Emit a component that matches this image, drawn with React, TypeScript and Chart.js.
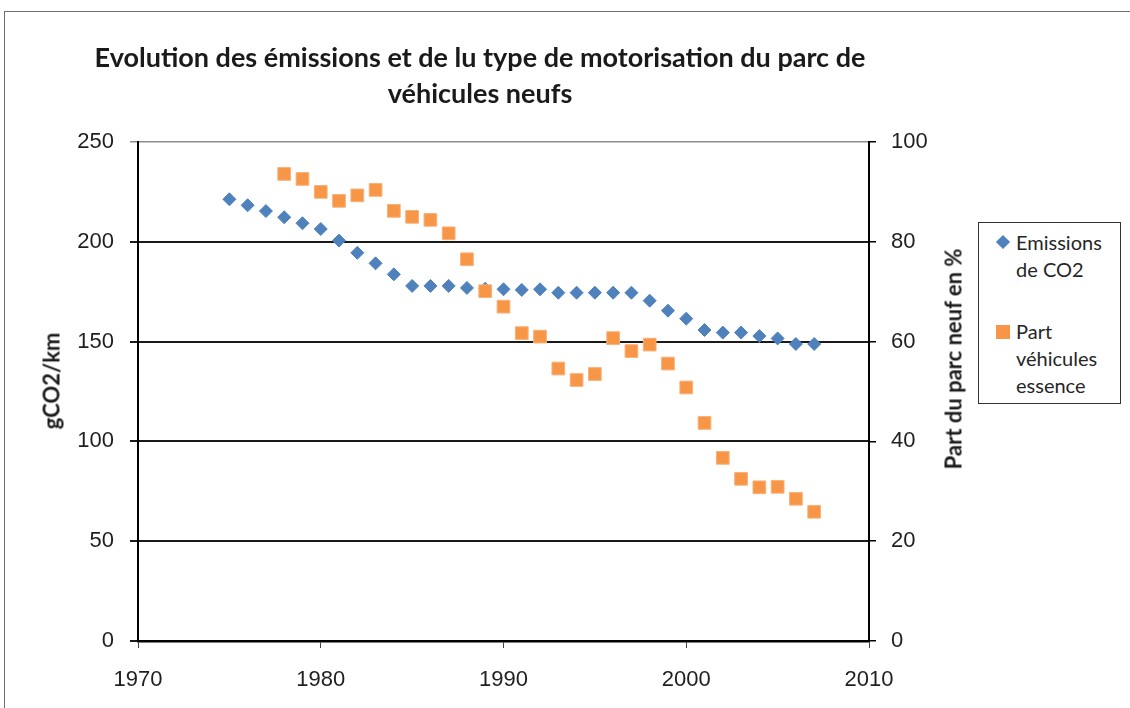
import React, { useEffect, useRef } from "react";
import { Chart, registerables } from "chart.js";

Chart.register(...registerables);

const emissionYears = [
  1975, 1976, 1977, 1978, 1979, 1980, 1981, 1982, 1983, 1984, 1985, 1986, 1987, 1988, 1989, 1990, 1991,
  1992, 1993, 1994, 1995, 1996, 1997, 1998, 1999, 2000, 2001, 2002, 2003, 2004, 2005, 2006, 2007,
];
const emissionsCO2 = [
  221.3, 218.3, 215.4, 212.3, 209.3, 206.4, 200.6, 194.5, 189.2, 183.7, 177.9, 177.9, 177.9, 176.9, 176.5,
  176.2, 175.9, 176.2, 174.5, 174.5, 174.5, 174.5, 174.5, 170.5, 165.5, 161.5, 155.8, 154.5, 154.5, 152.8,
  151.6, 148.8, 148.8,
];
const essenceYears = [
  1978, 1979, 1980, 1981, 1982, 1983, 1984, 1985, 1986, 1987, 1988, 1989, 1990, 1991, 1992, 1993, 1994,
  1995, 1996, 1997, 1998, 1999, 2000, 2001, 2002, 2003, 2004, 2005, 2006, 2007,
];
const partEssence = [
  93.6, 92.6, 90.0, 88.2, 89.3, 90.4, 86.2, 85.0, 84.4, 81.7, 76.5, 70.1, 67.0, 61.7, 61.0, 54.6, 52.3,
  53.5, 60.7, 58.1, 59.4, 55.6, 50.8, 43.7, 36.7, 32.5, 30.8, 30.9, 28.5, 25.9,
];

const titleLines = ["Evolution des émissions et de lu type de motorisation du parc de", "véhicules neufs"];
const leftAxisTitle = "gCO2/km";
const rightAxisTitle = "Part du parc neuf en %";
const legendLabels = [["Emissions", "de CO2"], ["Part", "véhicules", "essence"]];

const BLUE = "#4F81BD";
const ORANGE = "#F79646";
const TICK_FONT = { family: "'Liberation Sans', Arial, sans-serif", size: 22 };
const TEXT_FONT = "Lato, 'Open Sans', sans-serif";

export default function App() {
  const canvasRef = useRef<HTMLCanvasElement | null>(null);

  useEffect(() => {
    document.body.style.margin = "0";
    document.body.style.overflow = "hidden";
    const ctx = canvasRef.current!.getContext("2d")!;
    const chart = new Chart(ctx, {
      type: "scatter",
      data: {
        datasets: [
          {
            label: legendLabels[1].join(" "),
            data: essenceYears.map((x, i) => ({ x, y: partEssence[i] })),
            yAxisID: "y1",
            pointStyle: "rect",
            pointRadius: 9,
            pointHoverRadius: 9,
            backgroundColor: ORANGE,
            borderColor: "#F9B27A",
            borderWidth: 1,
            order: 0,
          },
          {
            label: legendLabels[0].join(" "),
            data: emissionYears.map((x, i) => ({ x, y: emissionsCO2[i] })),
            yAxisID: "y",
            pointStyle: "rectRot",
            pointRadius: 6.5,
            pointHoverRadius: 6.5,
            backgroundColor: BLUE,
            borderColor: BLUE,
            borderWidth: 1,
            order: 1,
          },
        ],
      },
      options: {
        animation: false,
        responsive: false,
        maintainAspectRatio: false,
        layout: { padding: { top: 142, right: 181, bottom: 0, left: 0 } },
        plugins: { legend: { display: false }, tooltip: { enabled: false }, title: { display: false } },
        scales: {
          x: {
            type: "linear",
            min: 1970,
            max: 2010,
            ticks: {
              stepSize: 10,
              font: TICK_FONT,
              color: "#1f1f1f",
              padding: 19,
              callback: (v: any) => String(v),
            },
            grid: { drawOnChartArea: false, drawTicks: true, tickLength: 7, color: "#444", lineWidth: 1 },
            border: { display: true, color: "#000", width: 2.5 },
            afterFit: (s: any) => {
              s.height = 67;
            },
          },
          y: {
            type: "linear",
            position: "left",
            min: 0,
            max: 250,
            ticks: { stepSize: 50, font: TICK_FONT, color: "#1f1f1f", padding: 16 },
            grid: {
              color: (c: any) => (c.tick && c.tick.value === 250 ? "#8c8c8c" : "#1a1a1a"),
              lineWidth: (c: any) => (c.tick && c.tick.value === 250 ? 1.5 : 2),
              tickLength: 8,
              drawTicks: true,
            },
            border: { display: true, color: "#000", width: 2 },
            afterFit: (s: any) => {
              s.width = 138;
            },
          },
          y1: {
            type: "linear",
            position: "right",
            min: 0,
            max: 100,
            ticks: { stepSize: 20, font: TICK_FONT, color: "#1f1f1f", padding: 15 },
            grid: { drawOnChartArea: false, drawTicks: true, tickLength: 7, color: "#000", lineWidth: 1.5 },
            border: { display: true, color: "#000", width: 2 },
            afterFit: (s: any) => {
              s.width = 80;
            },
          },
        },
      },
    });
    return () => chart.destroy();
  }, []);

  const wrap: React.CSSProperties = {
    position: "fixed",
    left: 0,
    top: 0,
    width: 1130,
    height: 708,
    overflow: "hidden",
    background: "#fff",
  };

  return (
    <div style={wrap}>
      <div
        style={{
          position: "absolute",
          left: 4,
          top: 11,
          width: 1200,
          height: 800,
          border: "1px solid #6e6e6e",
          boxSizing: "border-box",
        }}
      />
      <canvas ref={canvasRef} width={1130} height={708} style={{ position: "absolute", left: 0, top: 0 }} />
      <div
        style={{
          position: "absolute",
          left: 30,
          top: 39,
          width: 900,
          textAlign: "center",
          fontFamily: TEXT_FONT,
          fontWeight: 700,
          fontSize: 27,
          lineHeight: "36px",
          color: "#1a1a1a",
          whiteSpace: "nowrap",
        }}
      >
        {titleLines.map((l, i) => (
          <div key={i}>{l}</div>
        ))}
      </div>
      <div
        style={{
          position: "absolute",
          left: 51,
          top: 381,
          transform: "translate(-50%, -50%) rotate(-90deg)",
          whiteSpace: "nowrap",
          fontFamily: TEXT_FONT,
          fontWeight: 700,
          fontSize: 22,
          color: "#1a1a1a",
        }}
      >
        {leftAxisTitle}
      </div>
      <div
        style={{
          position: "absolute",
          left: 953,
          top: 359,
          transform: "translate(-50%, -50%) rotate(-90deg)",
          whiteSpace: "nowrap",
          fontFamily: TEXT_FONT,
          fontWeight: 700,
          fontSize: 22,
          color: "#1a1a1a",
        }}
      >
        {rightAxisTitle}
      </div>
      <div
        style={{
          position: "absolute",
          left: 978,
          top: 222,
          width: 143,
          height: 182,
          border: "1px solid #333",
          boxSizing: "border-box",
          background: "#fff",
        }}
      />
      <div
        style={{
          position: "absolute",
          left: 998,
          top: 237,
          width: 10,
          height: 10,
          background: BLUE,
          transform: "rotate(45deg)",
        }}
      />
      <div
        style={{
          position: "absolute",
          left: 996,
          top: 325,
          width: 14,
          height: 14,
          background: ORANGE,
        }}
      />
      {legendLabels.map((lines, i) => (
        <div
          key={i}
          style={{
            position: "absolute",
            left: 1016,
            top: i === 0 ? 229 : 318,
            fontFamily: TEXT_FONT,
            fontSize: 20,
            lineHeight: "27px",
            color: "#262626",
            whiteSpace: "nowrap",
          }}
        >
          {lines.map((l, j) => (
            <div key={j}>{l}</div>
          ))}
        </div>
      ))}
    </div>
  );
}
